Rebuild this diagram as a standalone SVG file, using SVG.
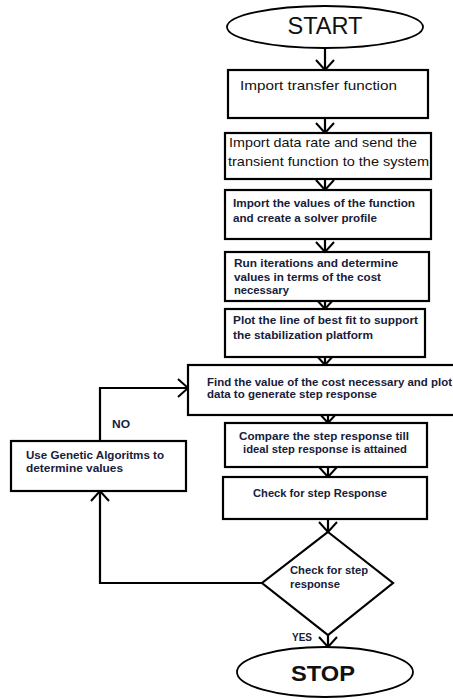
<svg xmlns="http://www.w3.org/2000/svg" width="453" height="699" viewBox="0 0 453 699">
<defs>
<marker id="arr" markerUnits="userSpaceOnUse" viewBox="-12 -11 14 22" markerWidth="14" markerHeight="22" refX="0" refY="0" orient="auto">
<path d="M-10,-9 L0,0 L-10,9" fill="none" stroke="#000" stroke-width="2"/>
</marker>
</defs>
<style>
.box{fill:#fff;stroke:#000;stroke-width:2.2}
.term{fill:#fff;stroke:#000;stroke-width:1.8}
.conn{fill:none;stroke:#000;stroke-width:2.2;marker-end:url(#arr)}
.t{font-family:"Liberation Sans",Arial,sans-serif;fill:#111;font-size:13.5px}
.b{font-family:"Liberation Sans",Arial,sans-serif;fill:#16203a;font-size:11.2px;font-weight:bold}
</style>
<rect width="453" height="699" fill="#fff"/>
<g id="connectors">
<path class="conn" d="M325,48 V70"/>
<path class="conn" d="M325,118 V133"/>
<path class="conn" d="M325,179 V190"/>
<path class="conn" d="M325,239 V252"/>
<path class="conn" d="M325,301 V309"/>
<path class="conn" d="M325,357 V365"/>
<path class="conn" d="M328,415 V423"/>
<path class="conn" d="M328,467 V477"/>
<path class="conn" d="M328,519 V532"/>
<path class="conn" d="M328,635 V647"/>
<path class="conn" d="M262,583 H100 V491"/>
<path class="conn" d="M100,441 V388 H188"/>
</g>
<g id="start">
<ellipse class="term" cx="325" cy="27" rx="98" ry="21"/>
<text x="325" y="34" text-anchor="middle" font-family="Liberation Sans,Arial,sans-serif" font-size="24" textLength="75" lengthAdjust="spacingAndGlyphs" fill="#111">START</text>
</g>
<g id="n1">
<rect class="box" x="228" y="70" width="200" height="48"/>
<text class="t" x="240" y="90" textLength="157" lengthAdjust="spacingAndGlyphs">Import transfer function</text>
</g>
<g id="n2">
<rect class="box" x="225" y="133" width="206" height="46"/>
<text class="t" x="229" y="147" textLength="188" lengthAdjust="spacingAndGlyphs">Import data rate and send the</text>
<text class="t" x="228" y="166" textLength="201" lengthAdjust="spacingAndGlyphs">transient function to the system</text>
</g>
<g id="n3">
<rect class="box" x="225" y="190" width="206" height="49"/>
<text class="b" x="233" y="207" textLength="182" lengthAdjust="spacingAndGlyphs">Import the values of the function</text>
<text class="b" x="233" y="222" textLength="144" lengthAdjust="spacingAndGlyphs">and create a solver profile</text>
</g>
<g id="n4">
<rect class="box" x="225" y="252" width="204" height="49"/>
<text class="b" x="234" y="267" textLength="164" lengthAdjust="spacingAndGlyphs">Run iterations and determine</text>
<text class="b" x="234" y="281" textLength="147" lengthAdjust="spacingAndGlyphs">values in terms of the cost</text>
<text class="b" x="234" y="294" textLength="55" lengthAdjust="spacingAndGlyphs">necessary</text>
</g>
<g id="n5">
<rect class="box" x="225" y="309" width="200" height="48"/>
<text class="b" x="233" y="324" textLength="185" lengthAdjust="spacingAndGlyphs">Plot the line of best fit to support</text>
<text class="b" x="233" y="339" textLength="140" lengthAdjust="spacingAndGlyphs">the stabilization platform</text>
</g>
<g id="n6">
<rect class="box" x="188" y="365" width="280" height="50"/>
<text class="b" x="207" y="386" textLength="245" lengthAdjust="spacingAndGlyphs">Find the value of the cost necessary and plot</text>
<text class="b" x="207" y="398" textLength="170" lengthAdjust="spacingAndGlyphs">data to generate step response</text>
</g>
<g id="n7">
<rect class="box" x="225" y="423" width="202" height="44"/>
<text class="b" x="239" y="440" textLength="170" lengthAdjust="spacingAndGlyphs">Compare the step response till</text>
<text class="b" x="243" y="453" textLength="164" lengthAdjust="spacingAndGlyphs">ideal step response is attained</text>
</g>
<g id="n8">
<rect class="box" x="223" y="477" width="204" height="42"/>
<text class="b" x="253" y="497" textLength="134" lengthAdjust="spacingAndGlyphs">Check for step Response</text>
</g>
<g id="decision">
<polygon class="box" points="328,532 393,583 328,635 262,583"/>
<text class="b" x="290" y="574" textLength="78" lengthAdjust="spacingAndGlyphs">Check for step</text>
<text class="b" x="290" y="588" textLength="50" lengthAdjust="spacingAndGlyphs">response</text>
</g>
<g id="ga">
<rect class="box" x="11" y="441" width="175" height="50"/>
<text class="b" x="26" y="459" textLength="138" lengthAdjust="spacingAndGlyphs">Use Genetic Algoritms to</text>
<text class="b" x="26" y="472" textLength="97" lengthAdjust="spacingAndGlyphs">determine values</text>
</g>
<g id="labels">
<text class="b" x="112" y="428" textLength="18" lengthAdjust="spacingAndGlyphs">NO</text>
<text class="b" x="292" y="641" textLength="20" lengthAdjust="spacingAndGlyphs">YES</text>
</g>
<g id="stop">
<ellipse class="term" cx="325" cy="672" rx="88" ry="25"/>
<text x="323" y="681" text-anchor="middle" font-family="Liberation Sans,Arial,sans-serif" font-size="22" font-weight="bold" textLength="64" lengthAdjust="spacingAndGlyphs" fill="#111">STOP</text>
</g>
</svg>
